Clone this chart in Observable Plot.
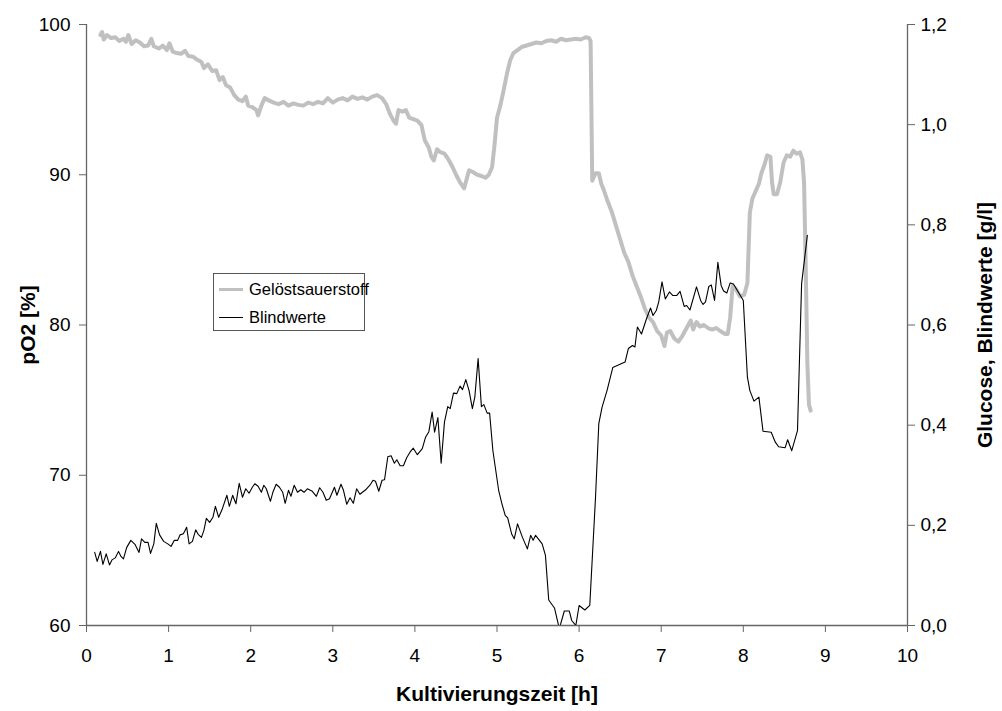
<!DOCTYPE html>
<html>
<head>
<meta charset="utf-8">
<script src="https://cdn.jsdelivr.net/npm/d3@7"></script>
<script src="https://cdn.jsdelivr.net/npm/@observablehq/plot@0.6"></script>
<style>
  body { margin: 0; background: #fff; font-family: "Liberation Sans", Arial, sans-serif; }
  #wrap { position: relative; width: 1002px; height: 711px; }
  #legend { position: absolute; left: 213px; top: 273px; width: 150px; height: 56px;
    border: 1px solid #555; background: #fff; font-size: 16.5px; color: #000; }
  .row { position: absolute; left: 0; height: 20px; display: flex; align-items: center; white-space: nowrap; }
  .sw { display: inline-block; width: 24px; margin-left: 5px; margin-right: 6px; }
</style>
</head>
<body>
<div id="wrap">
  <div id="chart"></div>
  <div id="legend">
    <div class="row" style="top:5px"><span class="sw" style="border-top:3px solid #c0c0c0"></span>Gelöstsauerstoff</div>
    <div class="row" style="top:33px"><span class="sw" style="border-top:1px solid #000"></span>Blindwerte</div>
  </div>
</div>
<script>
// Gelöstsauerstoff (pO2, %)
const o2Time = [0.17,0.19,0.21,0.25,0.30,0.35,0.40,0.45,0.48,0.51,0.55,0.60,0.65,0.70,0.75,0.79,0.82,0.88,0.93,0.98,1.01,1.05,1.10,1.15,1.20,1.24,1.30,1.35,1.40,1.43,1.48,1.53,1.58,1.62,1.66,1.70,1.75,1.80,1.85,1.90,1.94,1.97,2.02,2.07,2.09,2.13,2.17,2.22,2.28,2.34,2.40,2.46,2.52,2.58,2.64,2.70,2.76,2.82,2.88,2.94,3.00,3.06,3.12,3.18,3.24,3.30,3.36,3.42,3.48,3.54,3.60,3.65,3.70,3.74,3.77,3.80,3.85,3.89,3.93,3.98,4.03,4.08,4.12,4.17,4.20,4.23,4.27,4.31,4.36,4.41,4.46,4.51,4.55,4.60,4.64,4.66,4.70,4.76,4.82,4.86,4.90,4.94,4.97,5.00,5.04,5.08,5.12,5.16,5.20,5.25,5.30,5.36,5.42,5.48,5.54,5.60,5.66,5.72,5.78,5.84,5.90,5.96,6.02,6.08,6.12,6.14,6.16,6.20,6.24,6.27,6.30,6.35,6.40,6.45,6.50,6.55,6.60,6.65,6.70,6.75,6.80,6.85,6.90,6.95,7.00,7.04,7.07,7.11,7.16,7.21,7.26,7.31,7.36,7.39,7.43,7.47,7.52,7.57,7.62,7.67,7.72,7.78,7.81,7.84,7.87,7.91,7.96,8.01,8.05,8.08,8.11,8.15,8.19,8.22,8.26,8.29,8.33,8.35,8.37,8.41,8.45,8.49,8.53,8.57,8.61,8.65,8.69,8.72,8.74,8.76,8.78,8.80,8.82];
const o2Value = [99.3,99.5,99.0,99.3,99.1,99.15,98.9,99.05,98.85,99.3,98.7,98.95,98.8,98.55,98.6,99.05,98.55,98.4,98.6,98.3,98.75,98.2,98.1,98.05,98.25,97.9,97.85,97.65,97.5,97.1,97.35,96.9,96.95,96.3,96.5,95.95,95.8,95.3,95.0,94.9,95.2,94.6,94.5,94.3,93.95,94.6,95.1,94.95,94.8,94.7,94.85,94.6,94.75,94.65,94.6,94.8,94.7,94.85,94.75,95.1,94.8,95.0,95.1,94.95,95.2,95.05,95.15,95.0,95.2,95.3,95.1,94.7,94.0,93.6,93.4,94.3,94.2,94.3,93.8,93.7,93.6,93.3,92.3,91.8,91.2,90.95,91.7,91.5,91.4,91.0,90.5,89.9,89.5,89.1,89.9,90.3,90.2,90.0,89.9,89.8,90.0,90.5,92.0,93.8,94.6,95.6,96.7,97.6,98.1,98.3,98.5,98.6,98.7,98.8,98.75,98.9,98.95,98.85,99.05,98.95,99.0,99.05,99.0,99.15,99.1,98.9,89.6,90.1,90.1,89.4,89.0,88.2,87.5,86.6,85.7,84.8,84.2,83.3,82.6,81.9,81.1,80.5,80.2,79.6,79.3,78.6,79.5,79.6,79.1,78.9,79.3,79.8,80.3,79.7,80.2,79.9,80.0,79.8,79.7,79.8,79.6,79.4,79.4,80.5,82.6,82.4,81.9,82.0,82.8,87.5,88.4,88.9,89.4,90.1,90.7,91.3,91.2,89.5,88.7,88.7,89.5,90.8,91.3,91.2,91.6,91.4,91.5,91.0,89.5,84.0,77.5,74.7,74.3];

// Blindwerte (g/l)
const blankTime = [0.10,0.13,0.17,0.20,0.24,0.28,0.31,0.35,0.39,0.42,0.45,0.49,0.54,0.59,0.64,0.67,0.71,0.75,0.78,0.82,0.85,0.89,0.94,0.99,1.03,1.07,1.11,1.14,1.18,1.22,1.25,1.29,1.33,1.36,1.40,1.43,1.46,1.50,1.54,1.57,1.61,1.65,1.71,1.74,1.78,1.82,1.86,1.90,1.94,1.98,2.02,2.05,2.09,2.13,2.16,2.19,2.24,2.27,2.31,2.35,2.39,2.42,2.46,2.49,2.53,2.57,2.61,2.65,2.69,2.75,2.80,2.84,2.88,2.92,2.96,3.02,3.05,3.10,3.13,3.17,3.21,3.25,3.29,3.33,3.40,3.46,3.49,3.52,3.56,3.60,3.63,3.67,3.71,3.75,3.78,3.82,3.86,3.90,3.94,3.98,4.03,4.09,4.13,4.17,4.21,4.24,4.28,4.32,4.36,4.40,4.43,4.47,4.51,4.55,4.58,4.62,4.66,4.70,4.73,4.77,4.81,4.84,4.88,4.91,4.95,5.02,5.06,5.10,5.13,5.18,5.21,5.25,5.31,5.37,5.41,5.44,5.47,5.55,5.59,5.63,5.70,5.75,5.77,5.82,5.88,5.91,5.96,6.00,6.07,6.13,6.20,6.24,6.28,6.34,6.41,6.56,6.60,6.65,6.68,6.71,6.76,6.82,6.87,6.90,6.94,6.97,7.01,7.05,7.10,7.14,7.19,7.23,7.28,7.31,7.35,7.43,7.48,7.51,7.54,7.58,7.61,7.65,7.69,7.73,7.76,7.80,7.84,7.88,8.00,8.05,8.08,8.13,8.19,8.24,8.34,8.39,8.43,8.51,8.54,8.59,8.66,8.71,8.78];
const blankValue = [0.146,0.128,0.148,0.122,0.143,0.121,0.131,0.135,0.148,0.138,0.133,0.156,0.170,0.162,0.146,0.173,0.166,0.166,0.144,0.163,0.204,0.181,0.168,0.163,0.158,0.170,0.170,0.181,0.183,0.196,0.163,0.168,0.191,0.182,0.176,0.190,0.214,0.206,0.216,0.238,0.216,0.231,0.260,0.238,0.260,0.243,0.284,0.256,0.273,0.264,0.276,0.283,0.278,0.266,0.280,0.273,0.248,0.266,0.282,0.276,0.266,0.244,0.270,0.258,0.280,0.266,0.271,0.266,0.273,0.268,0.258,0.275,0.266,0.250,0.253,0.276,0.260,0.282,0.270,0.242,0.255,0.244,0.273,0.262,0.271,0.282,0.290,0.288,0.268,0.290,0.291,0.337,0.339,0.324,0.331,0.319,0.319,0.335,0.346,0.354,0.341,0.353,0.376,0.387,0.426,0.386,0.415,0.324,0.406,0.437,0.433,0.464,0.463,0.478,0.471,0.491,0.469,0.433,0.456,0.533,0.437,0.441,0.424,0.424,0.349,0.270,0.243,0.220,0.215,0.182,0.173,0.203,0.176,0.153,0.180,0.170,0.180,0.163,0.140,0.051,0.035,0.0,0.0,0.029,0.029,0.010,0.0,0.040,0.031,0.040,0.256,0.403,0.436,0.469,0.515,0.526,0.553,0.559,0.556,0.596,0.582,0.612,0.634,0.619,0.629,0.646,0.686,0.652,0.666,0.659,0.659,0.667,0.637,0.639,0.630,0.676,0.649,0.641,0.646,0.677,0.680,0.649,0.725,0.679,0.668,0.664,0.684,0.682,0.649,0.496,0.469,0.448,0.456,0.388,0.386,0.366,0.357,0.355,0.371,0.349,0.389,0.682,0.779];

const xTicks = [0,1,2,3,4,5,6,7,8,9,10];
const leftTicks = [60,70,80,90,100];
const rightTicks = [0,0.2,0.4,0.6,0.8,1.0,1.2];
const xTitle = "Kultivierungszeit [h]";
const leftTitle = "pO2 [%]";
const rightTitle = "Glucose, Blindwerte [g/l]";

// map right-axis (g/l) onto left-axis (%) domain
const L0 = 60, L1 = 100, R0 = 0, R1 = 1.2;
const toLeft = g => L0 + (g - R0) * (L1 - L0) / (R1 - R0);

const o2 = o2Time.map((t, i) => ({t, v: o2Value[i]}));
const blank = blankTime.map((t, i) => ({t, v: toLeft(blankValue[i])}));

const axisColor = "#666";
const font = "'Liberation Sans', Arial, sans-serif";

const chart = Plot.plot({
  width: 1002,
  height: 711,
  marginTop: 24,
  marginRight: 95,
  marginBottom: 86,
  marginLeft: 86,
  style: {fontFamily: font, fontSize: "19px", background: "white", color: "black"},
  x: {domain: [0, 10]},
  y: {domain: [L0, L1]},
  marks: [
    Plot.line(o2, {x: "t", y: "v", stroke: "#c0c0c0", strokeWidth: 4, clip: true}),
    Plot.line(blank, {x: "t", y: "v", stroke: "#000", strokeWidth: 1.1, clip: true}),
    Plot.ruleX([0, 10], {stroke: axisColor, strokeWidth: 1.3}),
    Plot.ruleY([L0], {stroke: axisColor, strokeWidth: 1.3}),
    Plot.axisX({ticks: xTicks, tickSize: 7, tickPadding: 16, stroke: axisColor, fill: "black", label: null, fontSize: 19, tickFormat: d => String(d)}),
    Plot.axisY({anchor: "left", ticks: leftTicks, tickSize: 7, tickPadding: 9, stroke: axisColor, fill: "black", label: null, fontSize: 19, tickFormat: d => String(d)}),
    Plot.axisY({anchor: "right", ticks: rightTicks.map(toLeft), tickSize: 7, tickPadding: 6, stroke: axisColor, fill: "black", label: null, fontSize: 19,
      tickFormat: (d, i) => rightTicks[i].toFixed(1).replace(".", ",")}),
    Plot.text([xTitle], {frameAnchor: "bottom", dy: 75, textAnchor: "middle", fontWeight: "bold", fontSize: 21, fill: "black"}),
    Plot.text([leftTitle], {frameAnchor: "left", dx: -58, rotate: -90, textAnchor: "middle", fontWeight: "bold", fontSize: 21, fill: "black"}),
    Plot.text([rightTitle], {frameAnchor: "right", dx: 78, rotate: -90, textAnchor: "middle", fontWeight: "bold", fontSize: 21, fill: "black"})
  ]
});
document.getElementById("chart").appendChild(chart);
</script>
</body>
</html>
